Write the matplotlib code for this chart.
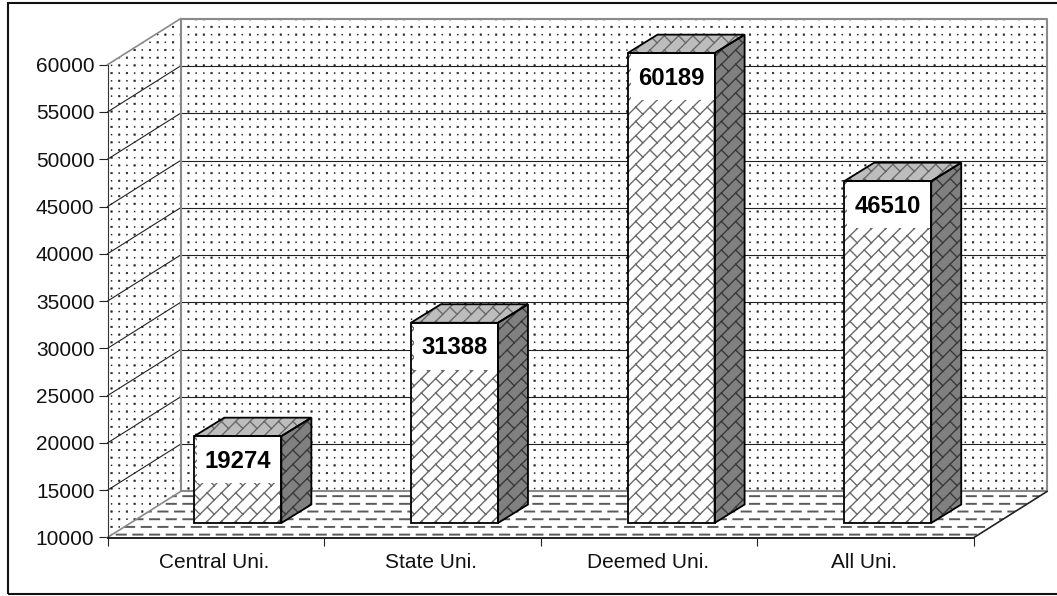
import numpy as np
import matplotlib
matplotlib.use('Agg')
import matplotlib.pyplot as plt
import matplotlib.hatch as mhatch
from matplotlib.patches import Polygon, Rectangle
from matplotlib.path import Path
from matplotlib.transforms import Affine2D, IdentityTransform

categories = ['Central Uni.', 'State Uni.', 'Deemed Uni.', 'All Uni.']
values = [19274, 31388, 60189, 46510]
y_ticks = [10000, 15000, 20000, 25000, 30000, 35000, 40000, 45000, 50000, 55000, 60000]


# Fill patterns: dots for the walls, bricks for the bars, dashes for the floor
class Dots(mhatch.HatchPatternBase):
    rows = 13

    def __init__(self, hatch, density):
        self.on = 'o' in hatch
        self.num_vertices = 5 * self.rows * self.rows if self.on else 0

    def set_vertices_and_codes(self, vertices, codes):
        n = self.rows
        pts = []
        for i in range(n):
            for j in range(n):
                r = 0.0075 if (i + j) % 2 == 0 else 0.0045
                cx = (j + 0.5) / n
                cy = (i + 0.5) / n
                pts += [(cx - r, cy - r), (cx + r, cy - r), (cx + r, cy + r), (cx - r, cy + r), (cx - r, cy - r)]
        vertices[:] = pts
        codes[:] = ([Path.MOVETO] + [Path.LINETO] * 3 + [Path.CLOSEPOLY]) * (n * n)


class Dashes(mhatch.HatchPatternBase):
    rows = 13
    per_row = 6

    def __init__(self, hatch, density):
        self.on = '-' in hatch
        self.num_vertices = 2 * self.rows * (self.per_row + 1) if self.on else 0

    def set_vertices_and_codes(self, vertices, codes):
        pts = []
        step = 1 / self.per_row
        for i in range(self.rows):
            y = (i + 0.5) / self.rows
            for j in range(self.per_row + 1):
                x = (j - 0.5 * (i % 2)) * step
                pts += [(x, y), (x + 0.55 * step, y)]
        vertices[:] = pts
        codes[:] = [Path.MOVETO, Path.LINETO] * (self.rows * (self.per_row + 1))


class Bricks(mhatch.HatchPatternBase):
    gap = 1 / 7

    def __init__(self, hatch, density):
        self.on = '/' in hatch
        self.segs = []
        if self.on:
            for k in range(-8, 8):
                a = k * self.gap
                self.segs.append(((-0.1, a - 0.1), (1.1, a + 1.1)))
                for m in range(-5, 11):
                    b = m * 2 * self.gap + (k % 2) * self.gap
                    a2 = a + self.gap
                    self.segs.append((((b - a) / 2, (a + b) / 2), ((b - a2) / 2, (a2 + b) / 2)))
        self.num_vertices = 2 * len(self.segs)

    def set_vertices_and_codes(self, vertices, codes):
        vertices[:] = [p for s in self.segs for p in s]
        codes[:] = [Path.MOVETO, Path.LINETO] * len(self.segs)


mhatch._hatch_types[:] = [Dots, Dashes, Bricks]

plt.rcParams['font.family'] = ['Liberation Sans', 'DejaVu Sans']

W, H = 1057, 596
fig = plt.figure(figsize=(W / 100, H / 100), dpi=100)
# Outer frame runs off the right edge
fig.add_artist(Rectangle((7.5 / W, 1 - 594 / H), 1060 / W, 591 / H, transform=fig.transFigure,
                         fc='none', ec='#111111', lw=1.5))

# The axes rectangle is the front plane of the box
ax = fig.add_axes([107.5 / W, 1 - 537.5 / H, 866.5 / W, 472.8 / H])
ax.set_xlim(0, 4)
ax.set_ylim(10000, 60000)
ax.patch.set_visible(False)
for s in ['top', 'right']:
    ax.spines[s].set_visible(False)
ax.spines['left'].set_color('#333333')
ax.spines['bottom'].set_color('#222222')
ax.spines['bottom'].set_linewidth(1.4)
ax.spines['left'].set_zorder(6)
ax.spines['bottom'].set_zorder(6)
ax.set_yticks(y_ticks)
ax.set_xticks([0, 1, 2, 3, 4])
ax.set_xticklabels([])
ax.tick_params(axis='x', length=5.8, width=0.8, color='#222222')
ax.tick_params(axis='y', length=6.5, width=0.8, color='#222222', pad=2.9, labelsize=15, labelcolor='#111111')
for i, name in enumerate(categories):
    ax.annotate(name, (i + 0.5, 10000), xytext=(-1, -11), textcoords='offset points',
                ha='center', va='top', fontsize=15, color='#111111', annotation_clip=False)

DX, DY = 73, 46
back = ax.transData + Affine2D().translate(DX, DY)
x0, x1, y0, y1 = 0, 4, y_ticks[0], y_ticks[-1]


def face(pts, tf, fc, hatch=None, hatch_color='#333333', lw=0.0, ec='none', hatch_lw=0.8, z=1):
    # Fill and hatch first, the outline goes on a separate patch
    p = Polygon(pts, closed=True, transform=tf, fc=fc, ec=hatch_color if hatch else 'none',
                lw=0, hatch=hatch, zorder=z, clip_on=False)
    if hatch:
        p.set_hatch_linewidth(hatch_lw)
    ax.add_patch(p)
    if lw:
        ax.add_patch(Polygon(pts, closed=True, transform=tf, fc='none', ec=ec, lw=lw,
                             zorder=z + 0.1, clip_on=False))


def to_px(tf, pts):
    return tf.transform(pts)


def depth_edge(x, y):
    # Line from the front plane to the back wall at one data point
    return np.vstack([to_px(ax.transData, [(x, y)]), to_px(back, [(x, y)])])


# Back wall, side wall and floor
ident = IdentityTransform()
front_pts = [(x0, y0), (x0, y1)]
left_wall = np.vstack([to_px(ax.transData, front_pts), to_px(back, front_pts[::-1])])
floor = np.vstack([to_px(ax.transData, [(x0, y0), (x1, y0)]), to_px(back, [(x1, y0), (x0, y0)])])
face([(x0, y0), (x1, y0), (x1, y1), (x0, y1)], back, 'white', hatch='o', hatch_color='#222222', hatch_lw=0.4, z=1)
face(left_wall, ident, 'white', hatch='o', hatch_color='#222222', hatch_lw=0.4, z=1)
face(floor, ident, 'white', hatch='-', hatch_color='#5a5a5a', hatch_lw=1.4, z=1)

# Gridlines run along the back wall and down the side wall
for t in y_ticks[1:-1]:
    ax.plot([x0, x1], [t, t], color='#222222', lw=0.8, transform=back, zorder=2, clip_on=False)
    seg = depth_edge(x0, t)
    ax.plot(seg[:, 0], seg[:, 1], color='#222222', lw=0.8, transform=ident, zorder=2, clip_on=False)

# Wall edges
ax.plot([x0, x0, x1, x1, x0], [y0, y1, y1, y0, y0], color='#8a8a8a', lw=1.5, transform=back,
        zorder=2, clip_on=False)
for edge, col in [(depth_edge(x0, y0), '#8a8a8a'), (depth_edge(x0, y1), '#8a8a8a'), (depth_edge(x1, y0), '#222222')]:
    ax.plot(edge[:, 0], edge[:, 1], color=col, lw=1.2, transform=ident, zorder=3, clip_on=False)

# Bars stand part way into the floor and have a slightly flatter scale
base_px = ax.transData.transform((0, y0))[1] + 14.5
bar_tf = ax.transData + Affine2D().translate(22, 14.5).translate(0, -base_px).scale(1, 0.99).translate(0, base_px)
BAR_W = 0.402
offs = np.array([30, 18.5])

for i, v in enumerate(values):
    c = i + 0.5
    l, r = c - BAR_W / 2, c + BAR_W / 2
    ll, lr, tr, tl = to_px(bar_tf, [(l, y0), (r, y0), (r, v), (l, v)])
    face([ll, lr, tr, tl], ident, 'white', hatch='/', hatch_color='#6a6a6a', hatch_lw=1.0,
         lw=1.3, ec='black', z=4)
    face([tl, tr, tr + offs, tl + offs], ident, '#bdbdbd', hatch='/', hatch_color='#6a6a6a',
         hatch_lw=1.0, lw=1.3, ec='black', z=4)
    face([lr, lr + offs, tr + offs, tr], ident, '#808080', hatch='/', hatch_color='#3a3a3a',
         hatch_lw=1.0, lw=1.3, ec='black', z=4)
    # White plate behind the value
    ax.add_patch(Rectangle((tl[0] + 3, tl[1] - 47), tr[0] - tl[0] - 4, 46, transform=ident,
                           fc='white', ec='none', zorder=4.5, clip_on=False))
    ax.text(tl[0] + (tr[0] - tl[0]) / 2, tl[1] - 25, str(v), transform=ident, ha='center', va='center',
            fontsize=17.2, fontweight='bold', color='black', zorder=5, clip_on=False)

fig.savefig('out.png', dpi=100)
